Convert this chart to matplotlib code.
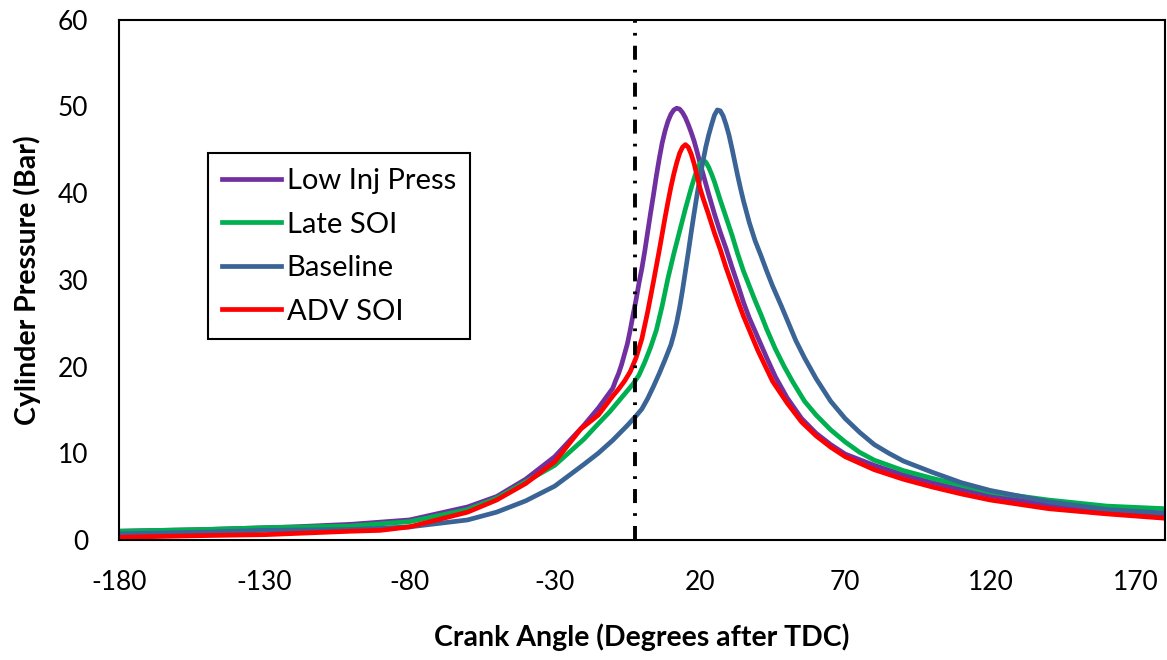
import matplotlib
matplotlib.use("Agg")
import matplotlib.pyplot as plt

plt.rcParams['font.family'] = ['Lato', 'DejaVu Sans']
plt.rcParams['axes.unicode_minus'] = False
plt.rcParams['xtick.major.pad'] = 22
plt.rcParams['ytick.major.pad'] = 22

# Low Inj Press
x_low = [-180, -150, -120, -100, -80, -60, -50, -40, -30, -20, -15, -10, -9, -8, -7, -6, -5, -4, -3, -2, -1, 0, 1, 2, 3, 4, 5, 6, 7, 8, 9, 10, 11, 12, 13, 14, 15, 16, 17, 18, 19, 20, 21, 23, 25, 27, 29, 31, 33, 35, 37, 40, 43, 46, 50, 55, 60, 65, 70, 80, 90, 100, 110, 120, 140, 160, 180]
y_low = [1.0, 1.2, 1.5, 1.8, 2.3, 3.8, 5.0, 7.0, 9.6, 13.2, 15.2, 17.5, 18.4, 19.2, 20.2, 21.4, 22.6, 24.2, 26.0, 27.7, 29.6, 31.3, 33.3, 35.5, 37.7, 39.8, 42.0, 44.0, 45.8, 47.2, 48.3, 49.1, 49.6, 49.8, 49.7, 49.3, 48.7, 47.9, 47.0, 46.0, 44.8, 43.5, 42.3, 39.9, 37.6, 35.5, 33.6, 31.5, 29.5, 27.4, 25.6, 23.3, 21.0, 18.8, 16.4, 14.0, 12.3, 11.0, 9.9, 8.6, 7.5, 6.6, 5.8, 5.1, 4.0, 3.3, 2.9]

# Late SOI
x_late = [-180, -150, -130, -100, -80, -60, -50, -40, -30, -20, -15, -11, -8, -5, -3, -1, 1, 3, 5, 7, 9, 11, 13, 15, 16, 17, 18, 19, 20, 21, 22, 23, 24, 25, 27, 29, 31, 33, 35, 37, 39, 41, 43, 46, 49, 52, 56, 60, 65, 70, 75, 80, 90, 100, 110, 120, 140, 160, 180]
y_late = [1.0, 1.2, 1.4, 1.6, 2.1, 3.5, 4.8, 6.7, 8.6, 11.6, 13.4, 14.8, 16.0, 17.2, 18.0, 19.0, 20.5, 22.2, 24.2, 27.0, 30.2, 33.0, 35.6, 38.2, 39.4, 40.6, 41.7, 42.7, 43.4, 43.8, 43.6, 43.0, 42.2, 41.3, 39.2, 37.2, 35.2, 33.0, 31.0, 29.3, 27.6, 26.0, 24.3, 22.0, 20.0, 18.2, 16.0, 14.4, 12.7, 11.3, 10.1, 9.2, 8.0, 7.1, 6.3, 5.5, 4.6, 3.9, 3.6]

# Baseline
x_base = [-180, -150, -130, -100, -80, -60, -50, -40, -30, -20, -15, -10, -5, -2, 0, 2, 4, 6, 8, 10, 11, 12, 13, 14, 15, 16, 17, 18, 19, 20, 21, 22, 23, 24, 25, 26, 27, 28, 29, 30, 31, 32, 33, 34, 35, 37, 39, 41, 43, 45, 48, 50, 53, 56, 60, 65, 70, 75, 80, 85, 90, 100, 110, 120, 140, 160, 180]
y_base = [0.7, 0.9, 1.1, 1.2, 1.5, 2.3, 3.2, 4.5, 6.2, 8.7, 10.0, 11.5, 13.2, 14.3, 15.1, 16.3, 17.7, 19.2, 20.8, 22.5, 23.7, 25.1, 26.8, 28.8, 31.0, 33.2, 35.5, 37.7, 39.8, 41.8, 43.6, 45.3, 46.7, 47.9, 49.0, 49.6, 49.5, 48.9, 47.9, 46.7, 45.2, 43.6, 42.0, 40.5, 39.1, 36.6, 34.5, 32.8, 31.0, 29.3, 27.0, 25.4, 23.0, 21.0, 18.6, 16.0, 14.0, 12.4, 11.0, 10.0, 9.1, 7.8, 6.6, 5.7, 4.4, 3.5, 3.1]

# ADV SOI
x_adv = [-180, -150, -130, -100, -90, -80, -60, -50, -40, -30, -21, -15, -10, -8, -6, -4, -2, 0, 2, 4, 6, 8, 9, 10, 11, 12, 13, 14, 15, 16, 17, 18, 19, 20, 21, 23, 25, 27, 29, 31, 33, 35, 37, 40, 45, 50, 55, 60, 65, 70, 80, 90, 100, 110, 120, 140, 160, 180]
y_adv = [0.3, 0.5, 0.6, 1.0, 1.1, 1.5, 3.2, 4.6, 6.5, 9.0, 12.8, 14.4, 16.6, 17.4, 18.3, 19.4, 21.0, 23.2, 26.3, 29.8, 33.4, 37.2, 39.0, 40.7, 42.2, 43.5, 44.6, 45.3, 45.6, 45.3, 44.5, 43.4, 42.0, 40.6, 39.5, 37.5, 35.4, 33.5, 31.4, 29.5, 27.6, 25.8, 24.2, 21.8, 18.3, 15.8, 13.6, 12.0, 10.7, 9.6, 8.1, 7.0, 6.1, 5.3, 4.6, 3.6, 3.0, 2.5]

series_names = ['Low Inj Press', 'Late SOI', 'Baseline', 'ADV SOI']
series_colors = ['#7030A0', '#00B050', '#3A6496', '#FF0000']
x_ticks = [-180, -130, -80, -30, 20, 70, 120, 170]
y_ticks = [0, 10, 20, 30, 40, 50, 60]
tdc_marker = -2.5

fig = plt.figure(figsize=(11.67, 6.6), dpi=100)
ax = fig.add_axes([0.102, 0.182, 0.896, 0.788])

data = [(x_low, y_low), (x_late, y_late), (x_base, y_base), (x_adv, y_adv)]
for (xs, ys), name, col in zip(data, series_names, series_colors):
    ax.plot(xs, ys, color=col, lw=3.4, label=name, solid_joinstyle='round')

ax.axvline(tdc_marker, color='black', lw=2.8, linestyle=(0, (3.6, 2.6, 0.7, 2.6)))

ax.set_xlim(-180, 180)
ax.set_ylim(0, 60)
ax.set_xticks(x_ticks)
ax.set_yticks(y_ticks)
ax.tick_params(axis='both', length=0, labelsize=19)
for s in ax.spines.values():
    s.set_linewidth(1.5)
    s.set_color('black')

ax.set_xlabel('Crank Angle (Degrees after TDC)', fontsize=20.5, fontweight='bold', labelpad=20)
ax.set_ylabel('Cylinder Pressure (Bar)', fontsize=20.5, fontweight='bold', labelpad=12)

leg = ax.legend(loc='upper left', bbox_to_anchor=(0.085, 0.743), fontsize=21,
                handlelength=2.0, handletextpad=0.2, labelspacing=0.6, borderaxespad=0,
                fancybox=False, edgecolor='black', framealpha=1, borderpad=0.5)
leg.get_frame().set_linewidth(1.5)

fig.savefig('out.png', dpi=100)
